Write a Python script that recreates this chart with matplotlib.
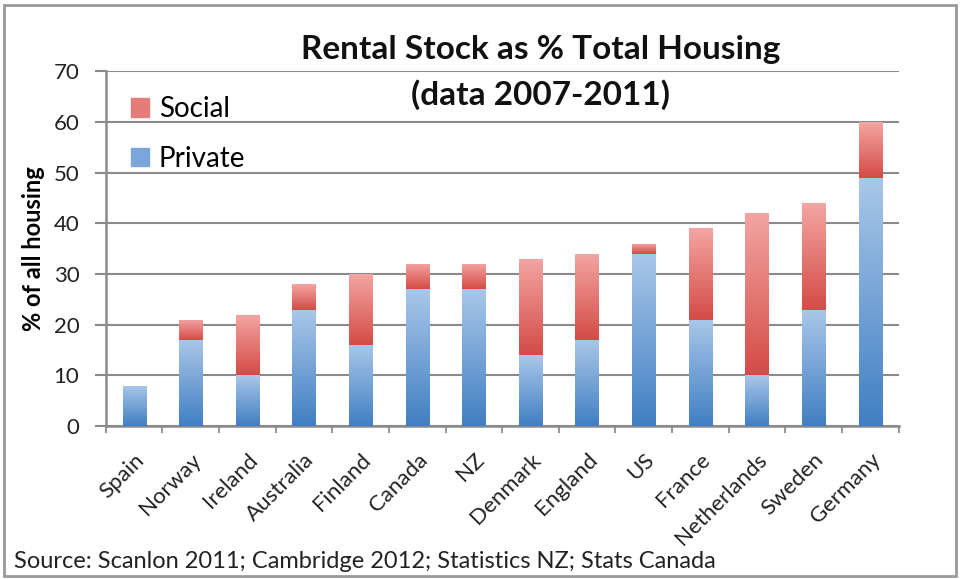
import matplotlib.pyplot as plt
import numpy as np
from matplotlib.colors import LinearSegmentedColormap
from matplotlib.patches import Rectangle

plt.rcParams['font.family'] = ['Lato', 'DejaVu Sans']

countries = ["Spain", "Norway", "Ireland", "Australia", "Finland", "Canada", "NZ",
             "Denmark", "England", "US", "France", "Netherlands", "Sweden", "Germany"]
private = [8, 17, 10, 23, 16, 27, 27, 14, 17, 34, 21, 10, 23, 49]
social = [0, 4, 12, 5, 14, 5, 5, 19, 17, 2, 18, 32, 21, 11]

blue_grad = LinearSegmentedColormap.from_list("b", ["#417fc3", "#a9c7e9"])
red_grad = LinearSegmentedColormap.from_list("r", ["#d44c46", "#f3a5a3"])

fig = plt.figure(figsize=(9.62, 5.79), dpi=100)
ax = fig.add_axes([0.110, 0.264, 0.824, 0.613])

x = np.arange(len(countries))
w = 0.41
bars_p = ax.bar(x, private, w, color="#7aa6da", label="Private", zorder=2)
bars_s = ax.bar(x, social, w, bottom=private, color="#e57c78", label="Social", zorder=2)

# excel-like vertical gradient inside every bar segment
grad = np.linspace(0, 1, 100).reshape(-1, 1)
for bars, cmap in ((bars_p, blue_grad), (bars_s, red_grad)):
    for b in bars:
        if b.get_height() <= 0:
            continue
        x0, y0 = b.get_x(), b.get_y()
        im = ax.imshow(grad, cmap=cmap, aspect="auto", origin="lower",
                       extent=(x0, x0 + b.get_width(), y0, y0 + b.get_height()), zorder=3)
        im.set_clip_path(b)
        b.set_alpha(0)

ax.set_xlim(-0.5, len(countries) - 0.5)
ax.set_ylim(0, 70)
ax.set_yticks(range(0, 71, 10))
ax.set_xticks(x)
ax.set_xticklabels(countries, rotation=45, ha="right", va="top",
                   rotation_mode="anchor", fontsize=16, color="#222222")
ax.tick_params(axis="x", length=0, pad=17)
ax.set_xticks(np.arange(-0.5, len(countries), 1), minor=True)
ax.tick_params(axis="x", which="minor", length=5, width=1.5, color="#999999")
ax.tick_params(axis="y", labelsize=16, length=8, width=1.5, color="#888888",
               labelcolor="#222222", pad=11)
ax.grid(axis="y", color="#8a8a8a", linewidth=1.5, zorder=0)
ax.set_axisbelow(True)
for s in ("top", "right"):
    ax.spines[s].set_visible(False)
for s in ("left", "bottom"):
    ax.spines[s].set_color("#8a8a8a")
    ax.spines[s].set_linewidth(1.8)

ax.set_ylabel("% of all housing", fontsize=17, fontweight="bold", labelpad=6)

handles = [Rectangle((0, 0), 1, 1, color="#e57c78"), Rectangle((0, 0), 1, 1, color="#7aa6da")]
ax.legend(handles, ["Social", "Private"], loc="upper left", bbox_to_anchor=(0.0, 1.0),
          frameon=False, fontsize=20, handlelength=0.65, handleheight=0.65,
          labelspacing=0.85, handletextpad=0.35)

fig.text(0.562, 0.914, "Rental Stock as % Total Housing", ha="center", va="center",
         fontsize=24, fontweight="bold", color="#111111")
fig.text(0.562, 0.836, "(data 2007-2011)", ha="center", va="center",
         fontsize=24, fontweight="bold", color="#111111")

fig.text(0.015, 0.030, "Source: Scanlon 2011; Cambridge 2012; Statistics NZ; Stats Canada",
         ha="left", va="center", fontsize=17, color="#222222")

fig.patches.append(Rectangle((0.004, 0.006), 0.99, 0.985, transform=fig.transFigure,
                             fill=False, edgecolor="#999999", linewidth=2))

fig.savefig("out.png", dpi=100)
